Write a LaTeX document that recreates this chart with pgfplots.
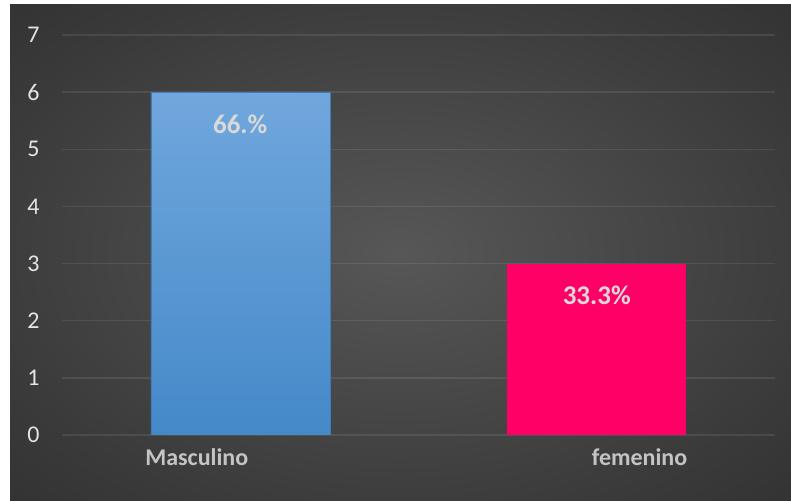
\documentclass[border=0pt]{standalone}
\usepackage{fontspec}
\setmainfont{Carlito}
\usepackage{pgfplots}
\pgfplotsset{compat=1.18}
\definecolor{bgc}{HTML}{575757}
\definecolor{bgm}{HTML}{3A3A3A}
\definecolor{bge}{HTML}{262626}
\definecolor{tickc}{HTML}{E4E4E4}
\definecolor{xlabc}{HTML}{C4C4C4}
\definecolor{lblc}{HTML}{D9D9D9}
\definecolor{bluetop}{HTML}{70A7DD}
\definecolor{bluebot}{HTML}{4589C9}
\definecolor{blueedge}{HTML}{3F7DB8}
\definecolor{pinkc}{HTML}{FF0066}
\pgfdeclareradialshading{bgshade}{\pgfpoint{0bp}{0bp}}{color(0bp)=(bgc); color(28bp)=(bgm); color(50bp)=(bge); color(72bp)=(bge)}
\begin{document}
\begin{tikzpicture}
\fill[white] (0,0) rectangle (791pt,500pt);
\shade[shading=bgshade] (10pt,0) rectangle (791pt,495pt);
\begin{axis}[
  at={(62pt,65pt)}, anchor=south west,
  scale only axis, width=713pt, height=400pt,
  xmin=-0.5, xmax=1.5, ymin=0, ymax=7,
  ytick={0,...,7},
  xtick={-0.122,1.12}, xticklabels={Masculino,femenino},
  axis line style={draw=none},
  major tick length=0pt,
  ymajorgrids, grid style={white, opacity=0.09, line width=1.5pt},
  y tick label style={font=\fontsize{24}{24}\selectfont, text=tickc, xshift=-19pt},
  x tick label style={font=\bfseries\fontsize{24}{24}\selectfont, text=xlabc, anchor=base, yshift=-30pt},
  /pgf/number format/assume math mode=true,
  ybar, bar width=179pt,
  point meta=explicit symbolic,
  nodes near coords,
  every node near coord/.append style={font=\bfseries\fontsize{27}{27}\selectfont, text=lblc, anchor=center, yshift=-32pt},
]
\addplot[bar shift=0pt, draw=blueedge, top color=bluetop, bottom color=bluebot] coordinates {(0,6) [66.\%]};
\addplot[bar shift=0pt, draw=none, fill=pinkc] coordinates {(1,3) [33.3\%]};
\end{axis}
\end{tikzpicture}
\end{document}
